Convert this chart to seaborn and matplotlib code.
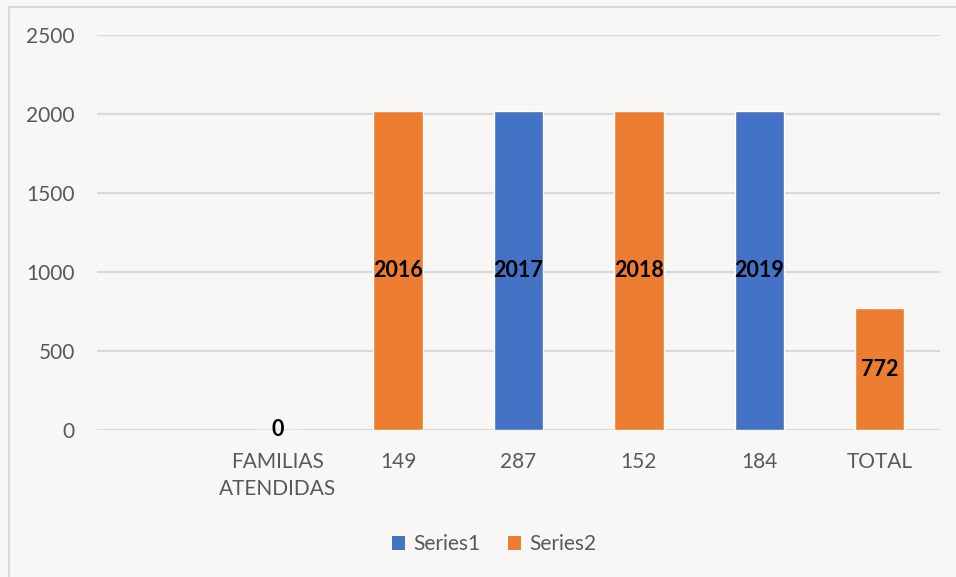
import numpy as np
import pandas as pd
import matplotlib
matplotlib.use("Agg")
import matplotlib.pyplot as plt
from matplotlib.patches import Patch
from matplotlib.lines import Line2D
import seaborn as sns

# Chart data
categories = ["", "FAMILIAS\nATENDIDAS", "149", "287", "152", "184", "TOTAL"]
series1 = [np.nan, np.nan, np.nan, 2017, np.nan, 2019, np.nan]
series2 = [np.nan, 0, 2016, np.nan, 2018, np.nan, 772]
series_names = ["Series1", "Series2"]
yticks = [0, 500, 1000, 1500, 2000, 2500]

BLUE = "#4472C4"
ORANGE = "#ED7D31"
BG = "#F8F7F5"
GRID = "#D9D9D9"
TEXT = "#595959"

sns.set_theme(style="white")
plt.rcParams["font.family"] = ["Lato", "DejaVu Sans"]

rows = []
for name, vals in zip(series_names, [series1, series2]):
    for cat, v in zip(categories, vals):
        if not np.isnan(v):
            rows.append({"category": cat, "value": v, "series": name})
df = pd.DataFrame(rows)

fig = plt.figure(figsize=(9.56, 5.77), dpi=100, facecolor=BG)
ax = fig.add_axes([97 / 956, 147 / 577, 843 / 956, 395 / 577])
ax.set_facecolor(BG)

sns.barplot(data=df, x="category", y="value", hue="series", order=categories,
            hue_order=series_names, palette=[BLUE, ORANGE], dodge=False,
            width=0.41, saturation=1, ax=ax, legend=False, zorder=3)

for cont in ax.containers:
    ax.bar_label(cont, label_type="center", fmt="%g", fontsize=15.5,
                 fontweight="bold", color="black", zorder=4)

ax.set_xlim(-0.5, len(categories) - 0.5)
ax.set_ylim(0, 2500)
ax.set_yticks(yticks)
ax.yaxis.grid(True, color=GRID, linewidth=1.6, zorder=0)
ax.set_axisbelow(True)
for s in ax.spines.values():
    s.set_visible(False)
ax.set_xlabel("")
ax.set_ylabel("")
ax.tick_params(axis="y", length=0, pad=16, labelsize=15, labelcolor=TEXT)
ax.tick_params(axis="x", length=0, pad=16, labelsize=15, labelcolor=TEXT)
ax.set_xticks(range(len(categories)))
ax.set_xticklabels(categories, linespacing=1.45)

handles = [Patch(facecolor=BLUE, edgecolor="none"),
           Patch(facecolor=ORANGE, edgecolor="none")]
fig.legend(handles, series_names, loc="center", bbox_to_anchor=(0.517, 0.057),
           ncol=2, frameon=False, fontsize=15, labelcolor=TEXT,
           handlelength=0.65, handleheight=0.65, handletextpad=0.4,
           columnspacing=1.3)

# Outer chart frame (left and top edges)
fig.add_artist(Line2D([8.5 / 956, 8.5 / 956], [0, 570.5 / 577],
                      transform=fig.transFigure, color=GRID, lw=1.5))
fig.add_artist(Line2D([8.5 / 956, 1], [570.5 / 577, 570.5 / 577],
                      transform=fig.transFigure, color=GRID, lw=1.5))

fig.savefig("out.png", dpi=100, facecolor=BG)
